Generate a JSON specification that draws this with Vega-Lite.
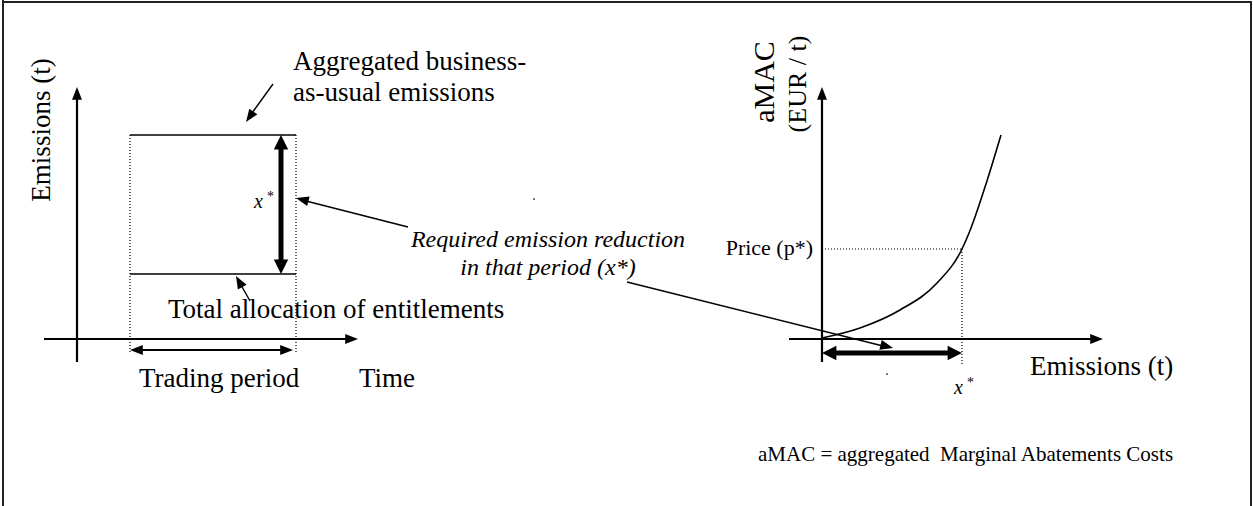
{
  "$schema": "https://vega.github.io/schema/vega-lite/v6.json",
  "width": 1253,
  "height": 506,
  "autosize": "none",
  "padding": 0,
  "background": "white",
  "config": {"view": {"stroke": null}},
  "datasets": {
    "frame": [
      {"x": 3, "y": 0, "x2": 3, "y2": 506},
      {"x": 2, "y": 2, "x2": 1252, "y2": 2},
      {"x": 1251, "y": 2, "x2": 1251, "y2": 506}
    ],
    "axes": [
      {"x": 77, "y": 96, "x2": 77, "y2": 362},
      {"x": 44, "y": 339, "x2": 349, "y2": 339},
      {"x": 822, "y": 96, "x2": 822, "y2": 362},
      {"x": 789, "y": 339, "x2": 1094, "y2": 339},
      {"x": 138, "y": 350, "x2": 285, "y2": 350}
    ],
    "thin": [
      {"x": 130, "y": 135, "x2": 296, "y2": 135},
      {"x": 130, "y": 274, "x2": 296, "y2": 274},
      {"x": 273, "y": 84, "x2": 252, "y2": 113},
      {"x": 408, "y": 227, "x2": 306, "y2": 201},
      {"x": 250, "y": 301, "x2": 241, "y2": 285},
      {"x": 627, "y": 282, "x2": 883, "y2": 346}
    ],
    "thick": [
      {"x": 281, "y": 147, "x2": 281, "y2": 262},
      {"x": 834, "y": 353, "x2": 950, "y2": 353}
    ],
    "dotted": [
      {"x": 130, "y": 135, "x2": 130, "y2": 352},
      {"x": 296, "y": 135, "x2": 296, "y2": 352},
      {"x": 822, "y": 249, "x2": 962, "y2": 249},
      {"x": 962, "y": 249, "x2": 962, "y2": 364}
    ],
    "curve": [
      {"x": 822, "y": 338},
      {"x": 860, "y": 328},
      {"x": 900, "y": 310},
      {"x": 937, "y": 283},
      {"x": 962, "y": 249},
      {"x": 971, "y": 228},
      {"x": 986, "y": 184},
      {"x": 1001, "y": 135}
    ],
    "heads": [
      {"x": 77, "y": 87, "angle": 0},
      {"x": 358, "y": 339, "angle": 90},
      {"x": 822, "y": 87, "angle": 0},
      {"x": 1103, "y": 339, "angle": 90},
      {"x": 130, "y": 350, "angle": 270},
      {"x": 293, "y": 350, "angle": 90},
      {"x": 246, "y": 122, "angle": 215},
      {"x": 296, "y": 198, "angle": 284.5},
      {"x": 236, "y": 276, "angle": 331},
      {"x": 893, "y": 348, "angle": 104}
    ],
    "bigheads": [
      {"x": 281, "y": 135, "angle": 0},
      {"x": 281, "y": 274, "angle": 180},
      {"x": 822, "y": 353, "angle": 270},
      {"x": 962, "y": 353, "angle": 90}
    ],
    "dots": [
      {"x": 534, "y": 199},
      {"x": 887, "y": 374}
    ],
    "labels": [
      {"x": 293, "y": 70, "label": "Aggregated business-"},
      {"x": 293, "y": 101, "label": "as-usual emissions"},
      {"x": 168, "y": 318, "label": "Total allocation of entitlements"},
      {"x": 139, "y": 387, "label": "Trading period"},
      {"x": 359, "y": 387, "label": "Time"},
      {"x": 1030, "y": 375, "label": "Emissions (t)"}
    ],
    "vlabels": [
      {"x": 42, "y": 130, "label": "Emissions (t)"}
    ],
    "amac": [
      {"x": 765, "y": 82, "label": "aMAC"}
    ],
    "eur": [
      {"x": 798, "y": 84, "label": "(EUR / t)"}
    ],
    "italic": [
      {"x": 548, "y": 247, "label": "Required emission reduction"},
      {"x": 548, "y": 275, "label": "in that period (x*)"}
    ],
    "price": [
      {"x": 813, "y": 255, "label": "Price (p*)"}
    ],
    "note": [
      {"x": 758, "y": 461, "label": "aMAC = aggregated \u00a0Marginal Abatements Costs"}
    ],
    "xs": [
      {"x": 254, "y": 208, "label": "x"},
      {"x": 954, "y": 394, "label": "x"}
    ],
    "stars": [
      {"x": 267, "y": 201, "label": "*"},
      {"x": 967, "y": 387, "label": "*"}
    ]
  },
  "encoding": {
    "x": {"field": "x", "type": "quantitative", "axis": null, "scale": {"domain": [0, 1253], "nice": false, "zero": false}},
    "y": {"field": "y", "type": "quantitative", "axis": null, "scale": {"domain": [0, 506], "nice": false, "zero": false, "reverse": true}}
  },
  "layer": [
    {"data": {"name": "frame"}, "mark": {"type": "rule", "color": "#222", "strokeWidth": 2}, "encoding": {"x2": {"field": "x2"}, "y2": {"field": "y2"}}},
    {"data": {"name": "dotted"}, "mark": {"type": "rule", "color": "black", "strokeWidth": 1.2, "strokeDash": [1, 2]}, "encoding": {"x2": {"field": "x2"}, "y2": {"field": "y2"}}},
    {"data": {"name": "axes"}, "mark": {"type": "rule", "color": "black", "strokeWidth": 2.2}, "encoding": {"x2": {"field": "x2"}, "y2": {"field": "y2"}}},
    {"data": {"name": "thin"}, "mark": {"type": "rule", "color": "black", "strokeWidth": 1.4}, "encoding": {"x2": {"field": "x2"}, "y2": {"field": "y2"}}},
    {"data": {"name": "thick"}, "mark": {"type": "rule", "color": "black", "strokeWidth": 5}, "encoding": {"x2": {"field": "x2"}, "y2": {"field": "y2"}}},
    {"data": {"name": "curve"}, "mark": {"type": "line", "color": "black", "strokeWidth": 1.6, "interpolate": "monotone"}, "encoding": {"order": {"field": "x", "type": "quantitative"}}},
    {"data": {"name": "heads"}, "mark": {"type": "point", "filled": true, "color": "black", "opacity": 1, "size": 256, "strokeWidth": 0, "shape": "M0,0L-0.62,1.6L0.62,1.6Z"}, "encoding": {"angle": {"field": "angle", "type": "quantitative", "scale": null}}},
    {"data": {"name": "bigheads"}, "mark": {"type": "point", "filled": true, "color": "black", "opacity": 1, "size": 256, "strokeWidth": 0, "shape": "M0,0L-0.9,1.8L0.9,1.8Z"}, "encoding": {"angle": {"field": "angle", "type": "quantitative", "scale": null}}},
    {"data": {"name": "dots"}, "mark": {"type": "point", "filled": true, "color": "black", "opacity": 1, "size": 3, "shape": "circle"}},
    {"data": {"name": "labels"}, "mark": {"type": "text", "font": "Liberation Serif", "fontSize": 27, "align": "left", "baseline": "alphabetic", "color": "black"}, "encoding": {"text": {"field": "label"}}},
    {"data": {"name": "vlabels"}, "mark": {"type": "text", "font": "Liberation Serif", "fontSize": 27, "align": "center", "baseline": "middle", "angle": 270, "color": "black"}, "encoding": {"text": {"field": "label"}}},
    {"data": {"name": "amac"}, "mark": {"type": "text", "font": "Liberation Serif", "fontSize": 30, "align": "center", "baseline": "middle", "angle": 270, "color": "black"}, "encoding": {"text": {"field": "label"}}},
    {"data": {"name": "eur"}, "mark": {"type": "text", "font": "Liberation Serif", "fontSize": 26, "align": "center", "baseline": "middle", "angle": 270, "color": "black"}, "encoding": {"text": {"field": "label"}}},
    {"data": {"name": "italic"}, "mark": {"type": "text", "font": "Liberation Serif", "fontSize": 24, "fontStyle": "italic", "align": "center", "baseline": "alphabetic", "color": "black"}, "encoding": {"text": {"field": "label"}}},
    {"data": {"name": "price"}, "mark": {"type": "text", "font": "Liberation Serif", "fontSize": 22, "align": "right", "baseline": "alphabetic", "color": "black"}, "encoding": {"text": {"field": "label"}}},
    {"data": {"name": "note"}, "mark": {"type": "text", "font": "Liberation Serif", "fontSize": 21, "align": "left", "baseline": "alphabetic", "color": "black"}, "encoding": {"text": {"field": "label"}}},
    {"data": {"name": "xs"}, "mark": {"type": "text", "font": "Liberation Serif", "fontSize": 20, "fontStyle": "italic", "align": "left", "baseline": "alphabetic", "color": "black"}, "encoding": {"text": {"field": "label"}}},
    {"data": {"name": "stars"}, "mark": {"type": "text", "font": "Liberation Serif", "fontSize": 14, "align": "left", "baseline": "alphabetic", "color": "black"}, "encoding": {"text": {"field": "label"}}}
  ]
}
